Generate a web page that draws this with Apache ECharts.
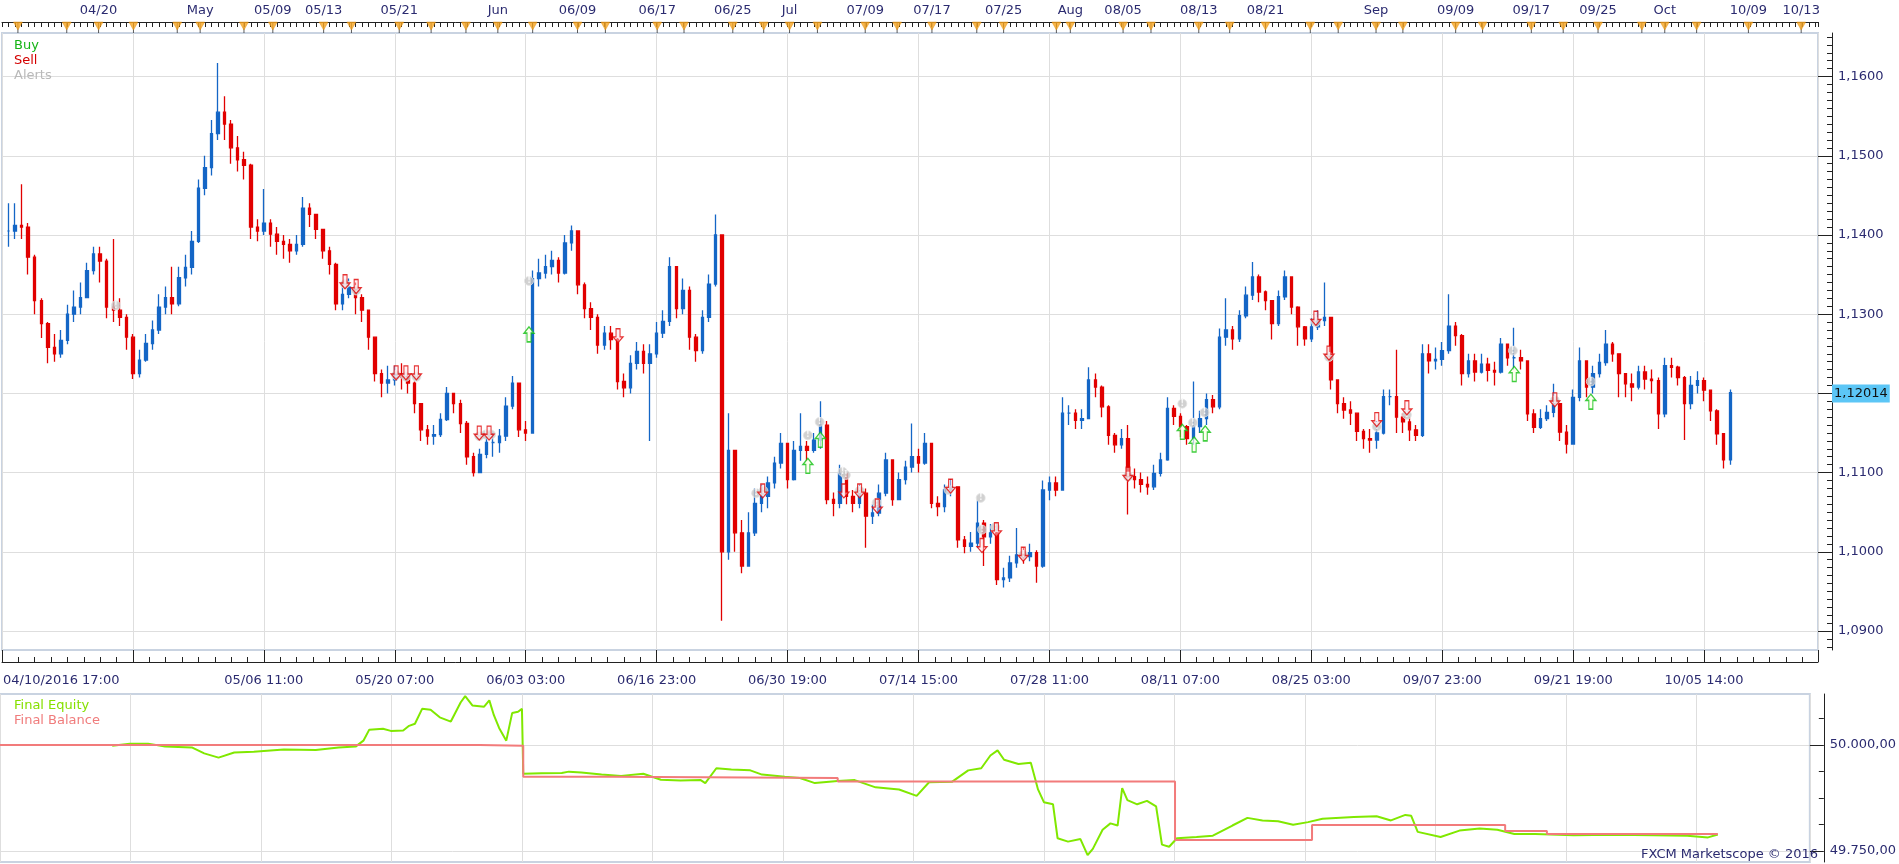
<!DOCTYPE html>
<html>
<head>
<meta charset="utf-8">
<title>EUR/USD strategy backtest</title>
<script src="https://cdn.jsdelivr.net/npm/echarts@6/dist/echarts.min.js"></script>
</head>
<body style="margin:0;background:#fff">
<div id="main" style="width:1899px;height:864px"></div>
<script>
// one bar every ~12 trading hours, 04/10 -> 10/06
var closes = [
  1.1405, 1.1412, 1.1410, 1.1372, 1.1317, 1.1288, 1.1258, 1.1250, 1.1267, 1.1300,
  1.1309, 1.1321, 1.1355, 1.1376, 1.1367, 1.1309, 1.1305, 1.1296, 1.1271, 1.1225,
  1.1242, 1.1263, 1.1280, 1.1309, 1.1321, 1.1313, 1.1346, 1.1359, 1.1392, 1.1459,
  1.1485, 1.1528, 1.1555, 1.1540, 1.1510, 1.1495, 1.1488, 1.1410, 1.1405, 1.1415,
  1.1401, 1.1392, 1.1388, 1.1380, 1.1388, 1.1434, 1.1426, 1.1407, 1.1380, 1.1363,
  1.1313, 1.1325, 1.1334, 1.1321, 1.1305, 1.1271, 1.1225, 1.1213, 1.1217, 1.1225,
  1.1221, 1.1213, 1.1187, 1.1154, 1.1146, 1.1148, 1.1167, 1.1200, 1.1187, 1.1162,
  1.1120, 1.1100, 1.1123, 1.1138, 1.1138, 1.1146, 1.1184, 1.1213, 1.1154, 1.1150,
  1.1345, 1.1352, 1.1360, 1.1368, 1.1352, 1.1390, 1.1405, 1.1337, 1.1307, 1.1296,
  1.1261, 1.1276, 1.1268, 1.1215, 1.1207, 1.1238, 1.1253, 1.1238, 1.1250, 1.1276,
  1.1291, 1.1360, 1.1307, 1.1330, 1.1271, 1.1254, 1.1296, 1.1338, 1.1400, 1.1000,
  1.1128, 1.1024, 1.0982, 1.1024, 1.1061, 1.1070, 1.1087, 1.1112, 1.1137, 1.1091,
  1.1128, 1.1133, 1.1128, 1.1141, 1.1160, 1.1066, 1.1061, 1.1099, 1.1070, 1.1061,
  1.1074, 1.1045, 1.1049, 1.1074, 1.1116, 1.1066, 1.1091, 1.1107, 1.1120, 1.1112,
  1.1137, 1.1061, 1.1057, 1.1078, 1.1082, 1.1015, 1.1007, 1.1011, 1.1036, 1.1019,
  1.1024, 1.0965, 1.0967, 1.0986, 1.0996, 1.0994, 1.0999, 1.0982, 1.1078, 1.1087,
  1.1078, 1.1175, 1.1175, 1.1166, 1.1168, 1.1217, 1.1208, 1.1183, 1.1147, 1.1135,
  1.1143, 1.1095, 1.1091, 1.1085, 1.1082, 1.1099, 1.1116, 1.1181, 1.1171, 1.1158,
  1.1143, 1.1158, 1.1168, 1.1192, 1.1183, 1.1271, 1.1280, 1.1269, 1.1298, 1.1324,
  1.1347, 1.1328, 1.1317, 1.1288, 1.1322, 1.1347, 1.1309, 1.1284, 1.1269, 1.1284,
  1.1292, 1.1296, 1.1217, 1.1187, 1.1179, 1.1175, 1.1152, 1.1143, 1.1141, 1.1150,
  1.1196, 1.1196, 1.1170, 1.1164, 1.1154, 1.1147, 1.1250, 1.1241, 1.1243, 1.1254,
  1.1285, 1.1273, 1.1225, 1.1241, 1.1227, 1.1237, 1.1229, 1.1227, 1.1262, 1.1245,
  1.1245, 1.1241, 1.1174, 1.1157, 1.1168, 1.1176, 1.1187, 1.1151, 1.1136, 1.1195,
  1.1241, 1.1208, 1.1225, 1.1239, 1.1262, 1.1250, 1.1225, 1.1212, 1.1208, 1.1227,
  1.1218, 1.1216, 1.1174, 1.1235, 1.1233, 1.1220, 1.1187, 1.1210, 1.1216, 1.1204,
  1.1178, 1.1149, 1.1116, 1.1201
];
var lows = [
  1.1385, 1.1395, 1.1395, 1.1350, 1.1300, 1.1270, 1.1238, 1.1240, 1.1245, 1.1262,
  1.1290, 1.1300, 1.1320, 1.1350, 1.1340, 1.1295, 1.1290, 1.1285, 1.1255, 1.1218,
  1.1220, 1.1240, 1.1255, 1.1275, 1.1300, 1.1300, 1.1310, 1.1335, 1.1350, 1.1390,
  1.1450, 1.1475, 1.1520, 1.1520, 1.1490, 1.1480, 1.1470, 1.1395, 1.1392, 1.1400,
  1.1385, 1.1375, 1.1370, 1.1365, 1.1375, 1.1385, 1.1410, 1.1395, 1.1370, 1.1350,
  1.1305, 1.1305, 1.1320, 1.1300, 1.1290, 1.1255, 1.1215, 1.1195, 1.1200, 1.1210,
  1.1205, 1.1200, 1.1175, 1.1140, 1.1135, 1.1135, 1.1145, 1.1165, 1.1175, 1.1150,
  1.1110, 1.1095, 1.1100, 1.1118, 1.1120, 1.1125, 1.1140, 1.1180, 1.1145, 1.1140,
  1.1150, 1.1335, 1.1345, 1.1350, 1.1340, 1.1350, 1.1380, 1.1325, 1.1295, 1.1280,
  1.1250, 1.1255, 1.1255, 1.1205, 1.1195, 1.1200, 1.1230, 1.1225, 1.1140, 1.1245,
  1.1270, 1.1285, 1.1295, 1.1300, 1.1255, 1.1240, 1.1250, 1.1290, 1.1335, 1.0913,
  1.0990, 1.1000, 1.0973, 1.0985, 1.1020, 1.1050, 1.1055, 1.1080, 1.1105, 1.1080,
  1.1090, 1.1115, 1.1115, 1.1125, 1.1130, 1.1060, 1.1045, 1.1055, 1.1060, 1.1050,
  1.1055, 1.1005, 1.1035, 1.1045, 1.1070, 1.1058, 1.1065, 1.1085, 1.1100, 1.1100,
  1.1110, 1.1055, 1.1045, 1.1050, 1.1070, 1.1005, 1.0998, 1.1000, 1.1005, 1.0982,
  1.1010, 1.0958, 1.0955, 1.0962, 1.0980, 1.0985, 1.0988, 1.0961, 1.0980, 1.1065,
  1.1070, 1.1078, 1.1160, 1.1155, 1.1155, 1.1170, 1.1195, 1.1170, 1.1135, 1.1125,
  1.1130, 1.1047, 1.1080, 1.1075, 1.1072, 1.1078, 1.1095, 1.1115, 1.1160, 1.1145,
  1.1135, 1.1135, 1.1150, 1.1160, 1.1175, 1.1180, 1.1260, 1.1255, 1.1265, 1.1295,
  1.1318, 1.1315, 1.1305, 1.1268, 1.1285, 1.1318, 1.1300, 1.1260, 1.1260, 1.1265,
  1.1280, 1.1285, 1.1205, 1.1175, 1.1168, 1.1160, 1.1140, 1.1130, 1.1125, 1.1130,
  1.1148, 1.1185, 1.1150, 1.1150, 1.1140, 1.1140, 1.1145, 1.1225, 1.1230, 1.1235,
  1.1250, 1.1260, 1.1210, 1.1220, 1.1215, 1.1225, 1.1215, 1.1210, 1.1225, 1.1235,
  1.1230, 1.1230, 1.1165, 1.1150, 1.1155, 1.1165, 1.1170, 1.1140, 1.1124, 1.1135,
  1.1190, 1.1195, 1.1200, 1.1220, 1.1235, 1.1240, 1.1195, 1.1195, 1.1190, 1.1205,
  1.1205, 1.1200, 1.1155, 1.1170, 1.1220, 1.1210, 1.1141, 1.1180, 1.1200, 1.1190,
  1.1165, 1.1135, 1.1105, 1.1110
];
var highs = [
  1.1440, 1.1440, 1.1464, 1.1415, 1.1375, 1.1320, 1.1290, 1.1275, 1.1280, 1.1312,
  1.1330, 1.1340, 1.1365, 1.1385, 1.1385, 1.1370, 1.1395, 1.1320, 1.1300, 1.1275,
  1.1255, 1.1275, 1.1292, 1.1325, 1.1335, 1.1360, 1.1360, 1.1375, 1.1405, 1.1470,
  1.1500, 1.1545, 1.1617, 1.1575, 1.1545, 1.1525, 1.1505, 1.1490, 1.1420, 1.1458,
  1.1420, 1.1410, 1.1400, 1.1395, 1.1400, 1.1448, 1.1440, 1.1425, 1.1405, 1.1385,
  1.1365, 1.1340, 1.1345, 1.1340, 1.1325, 1.1300, 1.1265, 1.1230, 1.1235, 1.1235,
  1.1238, 1.1225, 1.1215, 1.1185, 1.1160, 1.1160, 1.1175, 1.1208, 1.1200, 1.1192,
  1.1165, 1.1125, 1.1130, 1.1150, 1.1150, 1.1155, 1.1195, 1.1222, 1.1210, 1.1165,
  1.1355, 1.1370, 1.1375, 1.1380, 1.1372, 1.1400, 1.1412, 1.1400, 1.1340, 1.1315,
  1.1300, 1.1285, 1.1285, 1.1270, 1.1225, 1.1248, 1.1265, 1.1262, 1.1262, 1.1290,
  1.1305, 1.1372, 1.1355, 1.1345, 1.1335, 1.1275, 1.1305, 1.1350, 1.1426, 1.1400,
  1.1175, 1.1120, 1.1040, 1.1050, 1.1080, 1.1085, 1.1095, 1.1120, 1.1150, 1.1130,
  1.1140, 1.1175, 1.1140, 1.1150, 1.1190, 1.1165, 1.1075, 1.1110, 1.1100, 1.1078,
  1.1085, 1.1080, 1.1060, 1.1085, 1.1125, 1.1110, 1.1100, 1.1115, 1.1162, 1.1130,
  1.1150, 1.1135, 1.1070, 1.1085, 1.1092, 1.1080, 1.1020, 1.1025, 1.1065, 1.1040,
  1.1035, 1.1025, 1.0980, 1.0995, 1.1030, 1.1005, 1.1010, 1.1002, 1.1090, 1.1095,
  1.1095, 1.1195, 1.1185, 1.1180, 1.1180, 1.1233, 1.1225, 1.1210, 1.1185, 1.1150,
  1.1155, 1.1160, 1.1105, 1.1100, 1.1095, 1.1110, 1.1125, 1.1195, 1.1185, 1.1175,
  1.1160, 1.1215, 1.1178, 1.1200, 1.1198, 1.1282, 1.1320, 1.1285, 1.1305, 1.1335,
  1.1366, 1.1350, 1.1330, 1.1315, 1.1330, 1.1355, 1.1345, 1.1310, 1.1285, 1.1295,
  1.1305, 1.1340, 1.1296, 1.1215, 1.1195, 1.1190, 1.1172, 1.1155, 1.1155, 1.1165,
  1.1205, 1.1205, 1.1255, 1.1175, 1.1170, 1.1160, 1.1262, 1.1262, 1.1258, 1.1265,
  1.1325, 1.1290, 1.1275, 1.1250, 1.1250, 1.1250, 1.1245, 1.1240, 1.1270, 1.1262,
  1.1283, 1.1255, 1.1240, 1.1180, 1.1180, 1.1185, 1.1212, 1.1185, 1.1160, 1.1205,
  1.1258, 1.1240, 1.1235, 1.1250, 1.1280, 1.1265, 1.1250, 1.1225, 1.1225, 1.1235,
  1.1235, 1.1230, 1.1220, 1.1245, 1.1245, 1.1235, 1.1222, 1.1222, 1.1228, 1.1220,
  1.1205, 1.1180, 1.1150, 1.1205
];
var lastPrice = 1.12014;

var bottomTickPos = [0, 40, 60, 80, 100, 120, 140, 160, 180, 200, 220, 240, 260];
var bottomTickText = ['04/10/2016 17:00', '05/06 11:00', '05/20 07:00', '06/03 03:00', '06/16 23:00',
  '06/30 19:00', '07/14 15:00', '07/28 11:00', '08/11 07:00', '08/25 03:00', '09/07 23:00',
  '09/21 19:00', '10/05 14:00'];

var topTickPos = [14.75, 30.27, 41.37, 49.13, 60.68, 75.74, 87.91, 100.08, 111.63, 120.3, 131.86,
  142.05, 153, 163.19, 171.25, 182.81, 193, 209.89, 222.05, 233.61, 243.8, 253.99, 266.77, 274.83];
var topTickText = ['04/20', 'May', '05/09', '05/13', '05/21', 'Jun', '06/09', '06/17', '06/25', 'Jul',
  '07/09', '07/17', '07/25', 'Aug', '08/05', '08/13', '08/21', 'Sep', '09/09', '09/17', '09/25',
  'Oct', '10/09', '10/13'];

// orange event flags on the top time scale
var eventMarks = [2.43, 9.89, 14.75, 20.08, 26.77, 30.27, 36.96, 41.37, 49.13, 53.38, 60.68, 65.55,
  70.87, 75.74, 81.06, 87.91, 92.17, 100.08, 104.18, 111.63, 116.35, 120.3, 124.56, 131.86, 136.73,
  142.05, 148.9, 153, 161.06, 163.19, 171.25, 175.51, 182.81, 187.53, 193, 199.85, 204.11, 209.89,
  213.99, 222.05, 226.16, 233.61, 238.48, 243.8, 250.49, 253.99, 258.86, 266.77, 274.83];

var priceTicks = [1.09, 1.10, 1.11, 1.12, 1.13, 1.14, 1.15, 1.16];

var buyPoints = [[80.5, 1.1284], [123.1, 1.1118], [125.0, 1.1151], [180.3, 1.1161], [182.1, 1.1145],
  [183.8, 1.1159], [231.0, 1.1234], [242.7, 1.1199]];
var sellPoints = [[52.4, 1.1332], [54.1, 1.1326], [60.2, 1.1217], [61.7, 1.1217], [63.3, 1.1217],
  [72.9, 1.1141], [74.4, 1.1141], [94.1, 1.1264], [116.2, 1.1068], [128.6, 1.1068], [131.0, 1.1068],
  [133.7, 1.1049], [144.9, 1.1074], [149.7, 1.0999], [151.9, 1.1019], [156.0, 1.0988], [172.0, 1.1089],
  [200.7, 1.1286], [202.7, 1.1242], [210.0, 1.1158], [214.6, 1.1173], [237.2, 1.1183]];
var alertPoints = [[17.4, 1.1311], [52.4, 1.1338], [54.1, 1.1330], [60.2, 1.1223], [61.7, 1.1221],
  [63.3, 1.1221], [72.9, 1.1146], [73.9, 1.1148], [74.7, 1.1148], [80.5, 1.1342], [115.2, 1.1074],
  [116.3, 1.1077], [123.1, 1.1147], [124.9, 1.1164], [128.4, 1.1101], [128.9, 1.1097], [131.0, 1.1077],
  [133.6, 1.1062], [144.6, 1.1078], [149.5, 1.1068], [149.7, 1.1028], [151.7, 1.1031], [156.0, 1.0996],
  [172.0, 1.1095], [180.3, 1.1187], [181.9, 1.1163], [183.7, 1.1176], [200.7, 1.1290], [202.7, 1.1246],
  [210.0, 1.1158], [214.6, 1.1173], [230.8, 1.1254], [237.2, 1.1191], [242.7, 1.1215]];

var equityPoints = [[17.2, 49998], [19.9, 50003], [22.7, 50003], [25.3, 49996], [29.4, 49994],
  [31.3, 49980], [33.5, 49970], [35.9, 49982], [38.9, 49984], [43.5, 49989], [48.4, 49988],
  [51.9, 49994], [54.5, 49996], [55.7, 50010], [56.6, 50036], [58.7, 50038], [59.9, 50033],
  [61.8, 50034], [62.7, 50045], [63.6, 50050], [64.7, 50085], [66.0, 50083], [67.4, 50065],
  [69.1, 50055], [70.6, 50100], [71.3, 50115], [72.4, 50093], [74.2, 50090], [75.0, 50105],
  [75.7, 50070], [76.5, 50040], [77.6, 50010], [78.5, 50075], [79.4, 50078], [80.0, 50085],
  [80.2, 49932], [83.0, 49933], [86.1, 49934], [87.2, 49937], [89.1, 49935], [92.2, 49930],
  [95.2, 49927], [98.6, 49932], [101.3, 49918], [104.3, 49916], [107.4, 49917], [108.1, 49910],
  [109.8, 49945], [112.1, 49942], [115.0, 49940], [116.8, 49930], [120.3, 49925], [122.6, 49922],
  [124.9, 49910], [128.4, 49915], [131.0, 49917], [134.2, 49900], [137.8, 49895], [140.5, 49880],
  [142.4, 49912], [145.9, 49913], [148.4, 49940], [150.4, 49945], [151.8, 49975], [152.9, 49987],
  [153.9, 49965], [156.1, 49955], [158.0, 49958], [159.1, 49895], [160.0, 49865], [161.4, 49860],
  [162.1, 49780], [163.7, 49772], [165.6, 49778], [166.7, 49740], [167.5, 49755], [169.0, 49800],
  [170.2, 49815], [171.3, 49810], [172.0, 49898], [172.8, 49870], [174.3, 49860], [175.8, 49868],
  [177.2, 49855], [178.1, 49765], [179.2, 49760], [180.4, 49780], [183.4, 49783], [185.9, 49786],
  [188.9, 49810], [191.2, 49828], [193.5, 49822], [195.9, 49820], [198.2, 49812], [200.5, 49818],
  [202.7, 49826], [207.5, 49830], [211.0, 49832], [213.2, 49822], [215.4, 49835], [216.3, 49833],
  [217.3, 49795], [220.8, 49783], [223.7, 49798], [226.8, 49803], [229.5, 49800], [232.1, 49790],
  [235.3, 49790], [241.2, 49787], [247.3, 49788], [253.4, 49787], [258.6, 49786], [261.8, 49782],
  [263.3, 49789]];
var balancePoints = [[0, 50000], [73.5, 49998], [80.2, 49925], [93.8, 49922], [128.4, 49914],
  [180.1, 49776], [201.1, 49811], [230.7, 49797], [237.1, 49790], [263.3, 49790]];
var equityTicks = [49750, 50000];

var font = 'DejaVu Sans';
var navy = '#2b2b70';
var gridColor = '#dedede';
var frameColor = '#c9d3e1';
var X_MAX = 277.4;
var Y_MIN = 1.0876, Y_MAX = 1.1655;
var E_MIN = 49724, E_MAX = 50120;

var candles = closes.map(function (c, i) {
  var o = i ? closes[i - 1] : c;
  return [i + 1, o, c, Math.min(o, c, lows[i]), Math.max(o, c, highs[i])];
});

var minorPriceTicks = [];
for (var t = 1088; t <= 1165; t++) minorPriceTicks.push(t / 1000);
var minorEquityTicks = [49812.5, 49875, 49937.5, 50062.5];

function priceFmt(v) { return v.toFixed(4).replace('.', ','); }
function moneyFmt(v) {
  var s = Math.round(v).toString();
  return s.slice(0, 2) + '.' + s.slice(2) + ',00';
}

var chart = echarts.init(document.getElementById('main'));
chart.setOption({
  animation: false,
  backgroundColor: '#fff',
  textStyle: { fontFamily: font },
  title: {
    text: 'FXCM Marketscope \u00a9 2016',
    right: 81, bottom: 3, padding: 0,
    textStyle: { fontSize: 13, fontWeight: 'normal', color: navy, fontFamily: font }
  },
  legend: [{
    left: 3, top: 34, orient: 'vertical', itemWidth: 0, itemHeight: 0, itemGap: 2,
    selectedMode: false,
    textStyle: { fontSize: 13, fontFamily: font },
    data: [
      { name: 'Buy', textStyle: { color: '#16b416' } },
      { name: 'Sell', textStyle: { color: '#d40000' } },
      { name: 'Alerts', textStyle: { color: '#b9b9b9' } }
    ]
  }, {
    left: 3, top: 694, orient: 'vertical', itemWidth: 0, itemHeight: 0, itemGap: 2,
    selectedMode: false,
    textStyle: { fontSize: 13, fontFamily: font },
    data: [
      { name: 'Final Equity', textStyle: { color: '#86e000' } },
      { name: 'Final Balance', textStyle: { color: '#f07c7c' } }
    ]
  }],
  grid: [
    { left: -6, top: 33, width: 1824, height: 617, show: true, borderColor: frameColor, borderWidth: 2 },
    { left: -6, top: 694, width: 1824, height: 168, show: true, borderColor: frameColor, borderWidth: 2 }
  ],
  xAxis: [{
    type: 'value', gridIndex: 0, position: 'bottom', offset: 12,
    min: 0, max: X_MAX, interval: 20,
    axisLine: { onZero: false, lineStyle: { color: '#222', width: 1 } },
    axisTick: { inside: true, length: 12, lineStyle: { color: '#222' } },
    minorTick: { show: true, splitNumber: 8, length: 5, lineStyle: { color: '#222' } },
    splitLine: { show: true, lineStyle: { color: gridColor } },
    axisLabel: {
      margin: 12, fontSize: 13, color: navy, fontFamily: font,
      showMaxLabel: false, alignMinLabel: 'left',
      formatter: function (v) {
        var k = bottomTickPos.indexOf(Math.round(v));
        if (k < 0) return '';
        return k === 0 ? '{first|' + bottomTickText[0] + '}' : bottomTickText[k];
      },
      rich: { first: { padding: [0, 0, 0, 1], fontSize: 13, color: navy, fontFamily: font } }
    }
  }, {
    type: 'value', gridIndex: 0, position: 'top', offset: 11,
    min: 0, max: X_MAX, interval: 20,
    axisLine: { onZero: false, lineStyle: { color: '#222', width: 1 } },
    axisTick: { inside: true, length: 5, lineStyle: { color: '#222' } },
    minorTick: { show: true, splitNumber: 20, length: 5, lineStyle: { color: '#222' } },
    splitLine: { show: false },
    axisLabel: {
      customValues: topTickPos, margin: 5, fontSize: 13, color: navy, fontFamily: font,
      formatter: function (v) {
        var k = topTickPos.indexOf(v);
        return k < 0 ? '' : topTickText[k];
      }
    }
  }, {
    type: 'value', gridIndex: 1, min: 0, max: X_MAX, interval: 20,
    axisLine: { show: false, onZero: false }, axisTick: { show: false }, axisLabel: { show: false },
    splitLine: { show: true, lineStyle: { color: gridColor } }
  }],
  yAxis: [{
    type: 'value', gridIndex: 0, position: 'right', offset: 14,
    min: Y_MIN, max: Y_MAX, scale: true,
    axisLine: { show: true, onZero: false, lineStyle: { color: '#222' } },
    axisTick: { show: true, inside: true, length: 14, customValues: priceTicks, lineStyle: { color: '#222' } },
    splitLine: { show: true, lineStyle: { color: gridColor } },
    axisLabel: {
      customValues: priceTicks, margin: 6, fontSize: 13, color: navy, fontFamily: font,
      formatter: priceFmt
    }
  }, {
    type: 'value', gridIndex: 0, position: 'right', offset: 14,
    min: Y_MIN, max: Y_MAX, scale: true,
    axisLine: { show: false, onZero: false },
    axisTick: { show: true, inside: true, length: 5, customValues: minorPriceTicks, lineStyle: { color: '#222' } },
    splitLine: { show: false },
    axisLabel: { show: false }
  }, {
    type: 'value', gridIndex: 1, position: 'right', offset: 14,
    min: E_MIN, max: E_MAX, scale: true,
    axisLine: { show: true, onZero: false, lineStyle: { color: '#222' } },
    axisTick: { show: true, inside: true, length: 14, customValues: equityTicks, lineStyle: { color: '#222' } },
    splitLine: { show: true, lineStyle: { color: gridColor } },
    axisLabel: {
      customValues: equityTicks, margin: 6, fontSize: 13, color: navy, fontFamily: font,
      formatter: moneyFmt
    }
  }, {
    type: 'value', gridIndex: 1, position: 'right', offset: 14,
    min: E_MIN, max: E_MAX, scale: true,
    axisLine: { show: false, onZero: false },
    axisTick: { show: true, inside: true, length: 5, customValues: minorEquityTicks, lineStyle: { color: '#222' } },
    splitLine: { show: false },
    axisLabel: { show: false }
  }],
  series: [{
    type: 'candlestick', name: 'EUR/USD', xAxisIndex: 0, yAxisIndex: 0,
    data: candles, barWidth: 3,
    itemStyle: { color: '#1466c6', color0: '#e10000', borderColor: '#1466c6', borderColor0: '#e10000', borderWidth: 1.3 },
    markLine: {
      silent: true, symbol: 'none',
      lineStyle: { color: 'transparent' },
      label: {
        position: 'end', distance: 14, formatter: lastPrice.toFixed(5).replace('.', ','),
        backgroundColor: '#5cc6f6', color: '#111', padding: [3, 2, 2, 2],
        fontSize: 13, fontFamily: font
      },
      data: [{ yAxis: lastPrice }]
    }
  }, {
    type: 'scatter', name: 'stems', xAxisIndex: 1, yAxisIndex: 0, clip: false, silent: true,
    symbol: 'rect', symbolSize: [1, 11], symbolOffset: [0, -5.5],
    itemStyle: { color: '#333' },
    data: eventMarks.map(function (v) { return [v, Y_MAX]; })
  }, {
    type: 'scatter', name: 'events', xAxisIndex: 1, yAxisIndex: 0, clip: false, silent: true,
    symbol: 'triangle', symbolRotate: 180, symbolSize: [9, 8], symbolOffset: [0, -7],
    itemStyle: { color: '#f7a520', borderColor: '#e08a00', borderWidth: 0.5 },
    data: eventMarks.map(function (v) { return [v, Y_MAX]; })
  }, {
    type: 'scatter', name: 'Alerts', xAxisIndex: 0, yAxisIndex: 0, z: 4,
    symbol: 'circle', symbolSize: 9,
    itemStyle: { color: '#c6c6c6', borderColor: '#e4e4e4', borderWidth: 1 },
    label: { show: true, formatter: '!', color: '#fff', fontSize: 8, fontWeight: 'bold', position: 'inside' },
    data: alertPoints
  }, {
    type: 'scatter', name: 'Buy', xAxisIndex: 0, yAxisIndex: 0, z: 5,
    symbol: 'path://M5,0 L10,5 L7,5 L7,12 L3,12 L3,5 L0,5 Z', symbolSize: [10, 15], symbolOffset: [0, 7.5],
    itemStyle: { color: 'rgba(255,255,235,0.85)', borderColor: '#10c010', borderWidth: 1.3 },
    data: buyPoints
  }, {
    type: 'scatter', name: 'Sell', xAxisIndex: 0, yAxisIndex: 0, z: 5,
    symbol: 'path://M3,0 L7,0 L7,7 L10,7 L5,12 L0,7 L3,7 Z', symbolSize: [10, 14], symbolOffset: [0, -7],
    itemStyle: { color: 'rgba(255,225,235,0.6)', borderColor: '#e00000', borderWidth: 1.2 },
    data: sellPoints
  }, {
    type: 'line', name: 'Final Equity', xAxisIndex: 2, yAxisIndex: 2,
    symbol: 'none', lineStyle: { color: '#80e800', width: 2 }, itemStyle: { color: '#80e800' },
    data: equityPoints
  }, {
    type: 'line', name: 'Final Balance', xAxisIndex: 2, yAxisIndex: 2, step: 'end',
    symbol: 'none', lineStyle: { color: '#f27b7b', width: 2 }, itemStyle: { color: '#f27b7b' },
    data: balancePoints
  }]
});
</script>
</body>
</html>
